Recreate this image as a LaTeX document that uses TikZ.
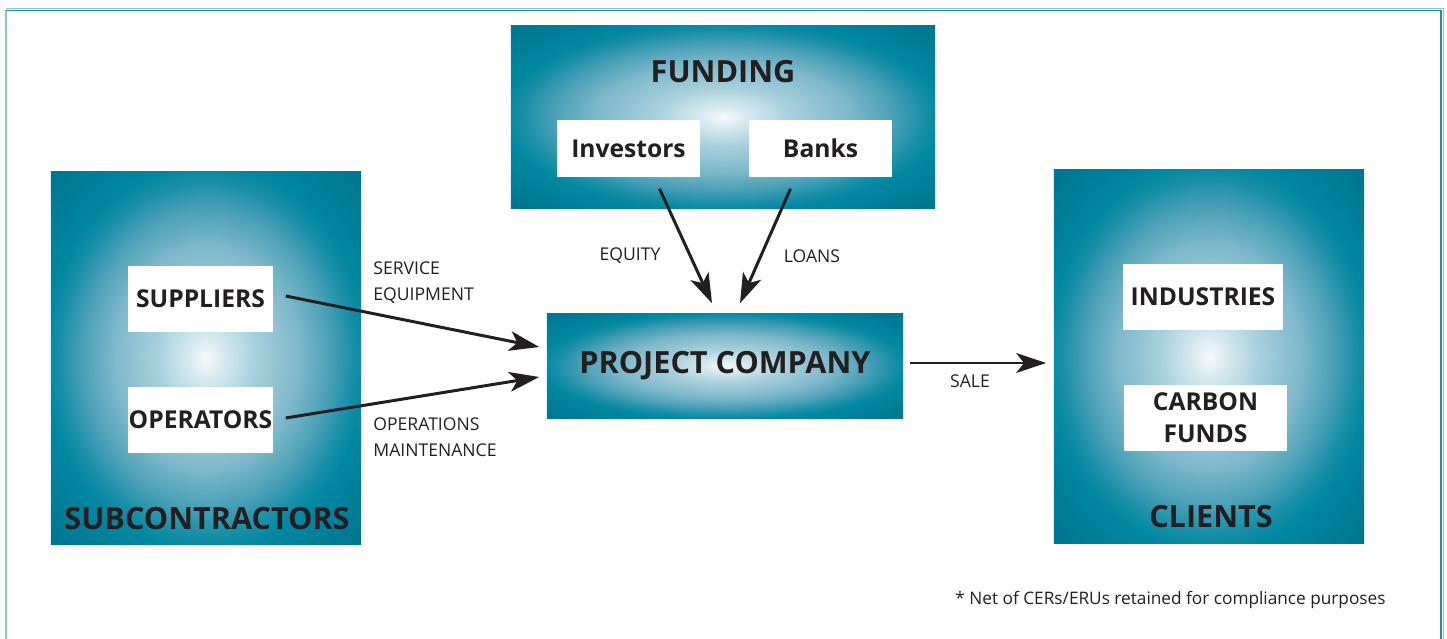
\documentclass[tikz,border=0pt]{standalone}
\usepackage{fontspec}
\setmainfont{Open Sans}
\usetikzlibrary{positioning,arrows.meta,shapes}
\definecolor{ink}{HTML}{231F20}
\definecolor{tealedge}{HTML}{1A90A8}
\definecolor{tealrim}{HTML}{0087A0}
\definecolor{tealdark}{HTML}{00718D}
\definecolor{glowsoft}{HTML}{4AA0B7}
\definecolor{glowmid}{HTML}{7DB8CA}
\definecolor{glowlight}{HTML}{A8D0DC}
\definecolor{glowpale}{HTML}{D6E9EF}
\definecolor{glowcore}{HTML}{F4F9FA}
\definecolor{framedark}{HTML}{1F8D9E}
\definecolor{framelight}{HTML}{8AC6D1}
\pgfdeclareradialshading{glow}{\pgfpointorigin}{%
  color(0bp)=(glowcore); color(3bp)=(glowpale); color(8bp)=(glowlight);
  color(15bp)=(glowmid); color(20bp)=(glowsoft); color(23.5bp)=(tealedge);
  color(26bp)=(tealrim); color(37bp)=(tealdark); color(50bp)=(tealdark)}

\begin{document}
\begin{tikzpicture}
        [x=0.01cm, y=-0.01cm, text=ink,
        font=\fontsize{7}{9.1}\selectfont\bfseries,
        panel/.style={rectangle, shade, shading=glow, inner sep=0pt},
        whitebox/.style={rectangle, fill=white, inner sep=0pt,
        minimum height=0.66cm, align=center},
        title/.style={font=\fontsize{8.7}{10}\selectfont\bfseries},
        tag/.style={font=\fontsize{5}{7.4}\selectfont, align=left},
        flow/.style={draw=ink, line width=0.85pt,
        -{Stealth[length=8.5pt, width=5.6pt, inset=2.2pt]}}]
        \useasboundingbox (0,0) rectangle (1447,639);
        % frame
        \draw[framelight, line width=0.6pt] (6,10) -- (6,639);
        \draw[framelight, line width=0.3pt] (6,8.5) -- (1443.5,8.5) -- (1443.5,639);
        \draw[framedark, line width=0.5pt] (6,10.5) -- (1441,10.5) -- (1441,639);
        % panels
        \node[panel, minimum width=4.24cm, minimum height=1.82cm] (funding) at (723,117) {};
        \node[panel, minimum width=3.10cm, minimum height=3.72cm] (subcon) at (206,358) {};
        \node[panel, minimum width=3.10cm, minimum height=3.73cm] (clients) at (1209,356.5) {};
        \node[panel, minimum width=3.56cm, minimum height=1.04cm] (project) at (725,366) {};
        \node[title] (fundinglbl) at (723,72) {FUNDING};
        \node[title] (subconlbl) at (207,519) {SUBCONTRACTORS};
        \node[title] (clientslbl) at (1211,517) {CLIENTS};
        \node[title] (projectlbl) at (project) {PROJECT COMPANY};
        % white boxes
        \node[whitebox, minimum width=1.43cm, minimum height=0.57cm] (investors) at (628.5,148.5) {Investors};
        \node[whitebox, minimum width=1.43cm, minimum height=0.57cm] (banks) at (820.5,148.5) {Banks};
        \node[whitebox, minimum width=1.45cm] (suppliers) at (200.5,299) {SUPPLIERS};
        \node[whitebox, minimum width=1.45cm] (operators) at (200.5,420) {OPERATORS};
        \node[whitebox, minimum width=1.60cm] (industries) at (1203,297) {INDUSTRIES};
        \node[whitebox, minimum width=1.63cm] (carbon) at (1205.5,418) {CARBON\\FUNDS};
        % flows
        \draw[flow] ([shift={(12,-3)}]suppliers.east) -- ([shift={(-7,-19)}]project.west);
        \draw[flow] ([shift={(12,-2)}]operators.east) -- ([shift={(-7,11)}]project.west);
        \draw[flow] ([shift={(31,11)}]investors.south) -- ([shift={(-13,-10)}]project.north);
        \draw[flow] ([shift={(-30,11)}]banks.south) -- ([shift={(15,-10)}]project.north);
        \draw[flow] ([shift={(6,-3)}]project.east) -- ([shift={(-7,6.5)}]clients.west);
        % flow tags
        \node[tag, anchor=west] (servicetag) at (361,283) {SERVICE\\EQUIPMENT};
        \node[tag, anchor=west] (opstag) at (361,437) {OPERATIONS\\MAINTENANCE};
        \node[tag] (equitytag) at (630,256) {EQUITY};
        \node[tag] (loanstag) at (812,256) {LOANS};
        \node[tag] (saletag) at (970,381) {SALE};
        \node[tag, anchor=east, font=\fontsize{4.9}{6}\selectfont] (footnote) at (1398,600) {* Net of CERs/ERUs retained for compliance purposes};
\end{tikzpicture}
\end{document}
